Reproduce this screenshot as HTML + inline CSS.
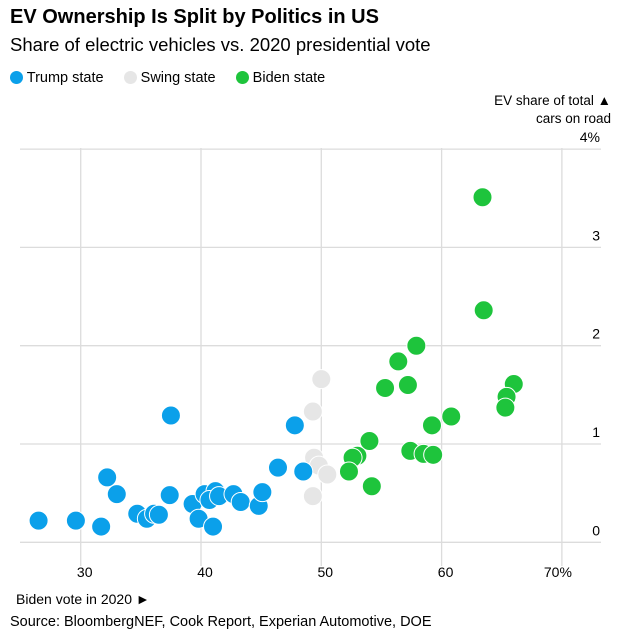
<!DOCTYPE html>
<html><head><meta charset="utf-8"><style>
body{margin:0;background:#fff;font-family:"Liberation Sans",Arial,sans-serif;color:#000}
#wrap{position:relative;width:623px;height:638px;overflow:hidden}
.t{position:absolute;white-space:nowrap}
</style></head><body>
<div id="wrap">
<div class="t" style="left:10px;top:6px;font-size:20px;font-weight:bold">EV Ownership Is Split by Politics in US</div>
<div class="t" style="left:10px;top:34px;font-size:18.5px">Share of electric vehicles vs. 2020 presidential vote</div>
<div class="t" style="left:10px;top:70px;font-size:14.5px">
<span><span style="display:inline-block;width:13px;height:13px;border-radius:50%;background:#0ba0ea;vertical-align:-2px"></span> Trump state</span>
<span style="margin-left:16px"><span style="display:inline-block;width:13px;height:13px;border-radius:50%;background:#e6e6e6;vertical-align:-2px"></span> Swing state</span>
<span style="margin-left:16px"><span style="display:inline-block;width:13px;height:13px;border-radius:50%;background:#1ec43c;vertical-align:-2px"></span> Biden state</span>
</div>
<div class="t" style="right:12px;top:92px;font-size:13.5px;text-align:right;line-height:18px">EV share of total ▲<br>cars on road</div>
<div class="t" style="left:16px;top:591px;font-size:14px">Biden vote in 2020 ►</div>
<div class="t" style="left:10px;top:614px;font-size:14.5px">Source: BloombergNEF, Cook Report, Experian Automotive, DOE</div>
<svg id="svg" width="623" height="638" style="position:absolute;left:0;top:0"></svg>
</div>
<script>
const xTicks=[30,40,50,60,70];
const xTickLabels=["30","40","50","60","70%"];
const yTicks=[0,1,2,3,4];
const yTickLabels=["0","1","2","3","4%"];
const trumpX=[26.5,29.6,31.7,32.2,33.0,34.7,35.5,36.1,36.5,37.4,37.5,39.3,39.8,41.0,40.3,41.2,40.7,41.5,42.7,43.3,44.8,45.1,46.4,47.8,48.5];
const trumpY=[0.22,0.22,0.16,0.66,0.49,0.29,0.24,0.29,0.28,0.48,1.29,0.39,0.24,0.16,0.49,0.52,0.43,0.47,0.49,0.41,0.37,0.51,0.76,1.19,0.72];
const swingX=[50.0,49.3,49.4,49.8,50.5,49.3];
const swingY=[1.66,1.33,0.86,0.78,0.69,0.47];
const bidenX=[63.4,63.5,57.9,56.4,55.3,57.2,66.0,65.4,65.3,60.8,59.2,54.0,53.0,52.6,52.3,54.2,57.4,58.5,59.3];
const bidenY=[3.51,2.36,2.00,1.84,1.57,1.60,1.61,1.48,1.37,1.28,1.19,1.03,0.88,0.86,0.72,0.57,0.93,0.90,0.89];
const NS="http://www.w3.org/2000/svg";
const svg=document.getElementById('svg');
const X=v=>80.7+(v-30)*12.03;
const Y=v=>542.3-v*98.3;
function mk(t,a){const e=document.createElementNS(NS,t);for(const k in a)e.setAttribute(k,a[k]);svg.appendChild(e);return e;}
xTicks.forEach((v,i)=>{
 const l=mk('line',{x1:X(v),x2:X(v),y1:148,y2:566,stroke:'#dcdcdc','stroke-width':1.3});
 
 
 const t=mk('text',{x:X(v)+(i==4?-4:4),y:577,'font-size':14,'text-anchor':'middle','font-family':'Liberation Sans, Arial, sans-serif'});
 t.textContent=xTickLabels[i];
 
 
});
yTicks.forEach((v,i)=>{
 const l=mk('line',{x1:20,x2:601,y1:Y(v),y2:Y(v),stroke:'#dcdcdc','stroke-width':1.3});
 
 
 const t=mk('text',{x:600,y:Y(v)-7,'font-size':14,'text-anchor':'end','font-family':'Liberation Sans, Arial, sans-serif'});
 t.textContent=yTickLabels[i];
 
 
});
function series(xs,ys,col,name){xs.forEach((x,i)=>{
 const c=mk('circle',{cx:X(x),cy:Y(ys[i]),r:9.5,fill:col,stroke:'#fff','stroke-width':1});
 
 
});}
series(swingX,swingY,'#e6e6e6','swing-state-point');
series(trumpX,trumpY,'#0ba0ea','trump-state-point');
series(bidenX,bidenY,'#1ec43c','biden-state-point');
</script>
</body></html>
